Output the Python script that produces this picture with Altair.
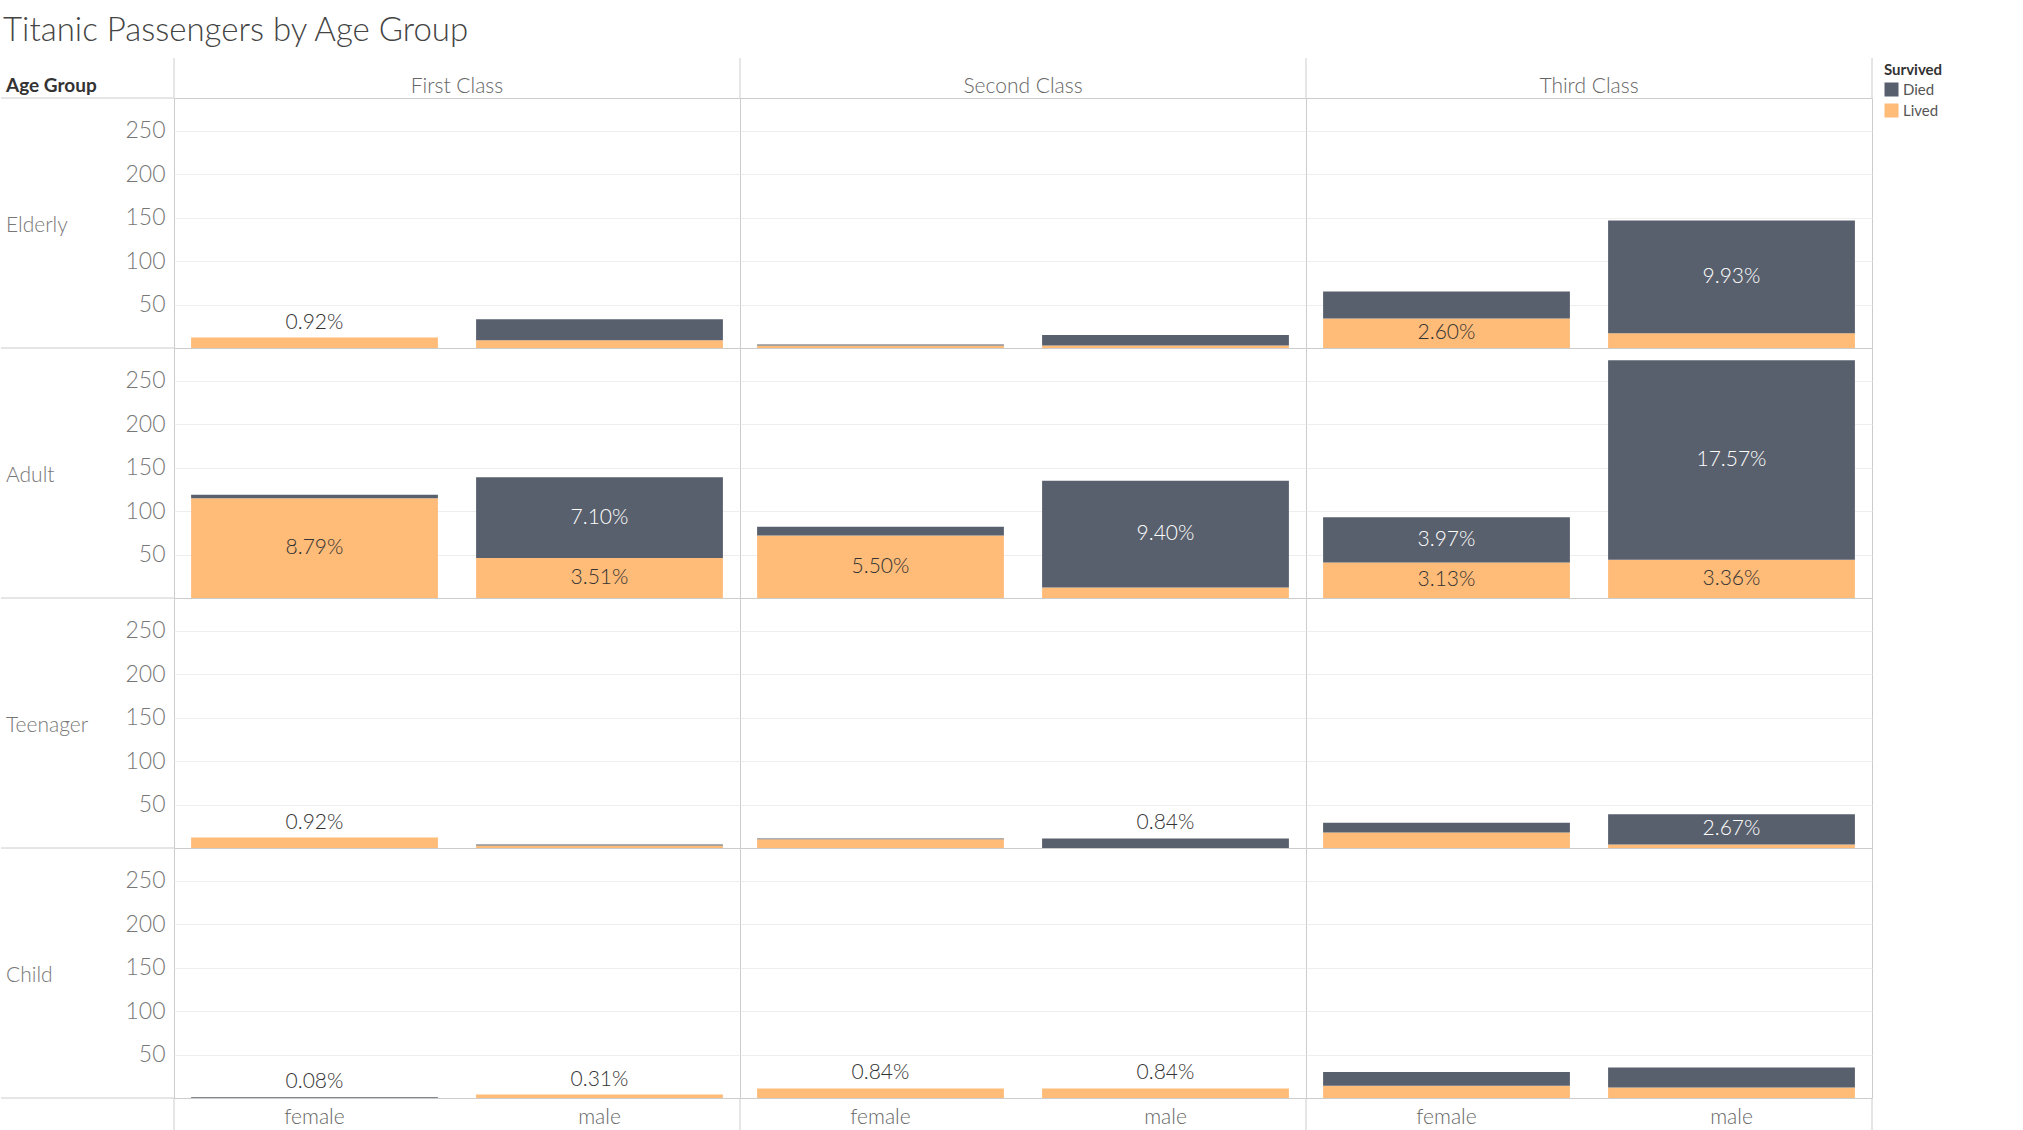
import altair as alt
import pandas as pd

TITLE = "Titanic Passengers by Age Group"
ROW_TITLE = "Age Group"
LEGEND_TITLE = "Survived"
AGE_GROUPS = ["Elderly", "Adult", "Teenager", "Child"]
CLASSES = ["First Class", "Second Class", "Third Class"]
SEXES = ["female", "male"]
SURVIVED = ["Died", "Lived"]
TOTAL_PASSENGERS = 1309
Y_TICKS = [50, 100, 150, 200, 250]

# passenger counts, ordered: First female, First male, Second female, Second male, Third female, Third male
LIVED_ELDERLY = [12, 9, 3, 3, 34, 17]
DIED_ELDERLY = [0, 24, 1, 12, 31, 130]
LIVED_ADULT = [115, 46, 72, 12, 41, 44]
DIED_ADULT = [4, 93, 10, 123, 52, 230]
LIVED_TEEN = [12, 3, 10, 0, 18, 4]
DIED_TEEN = [0, 1, 1, 11, 11, 35]
LIVED_CHILD = [0, 4, 11, 11, 14, 12]
DIED_CHILD = [1, 0, 0, 0, 16, 23]

# which segments carry a percent label ("in" = inside segment, "above" = above the bar)
LABEL_LIVED_ELDERLY = ["above", "", "", "", "in", ""]
LABEL_DIED_ELDERLY = ["", "", "", "", "", "in"]
LABEL_LIVED_ADULT = ["in", "in", "in", "", "in", "in"]
LABEL_DIED_ADULT = ["", "in", "", "in", "in", "in"]
LABEL_LIVED_TEEN = ["above", "", "", "", "", ""]
LABEL_DIED_TEEN = ["", "", "", "above", "", "in"]
LABEL_LIVED_CHILD = ["", "above", "above", "above", "", ""]
LABEL_DIED_CHILD = ["above", "", "", "", "", ""]

LIVED = [LIVED_ELDERLY, LIVED_ADULT, LIVED_TEEN, LIVED_CHILD]
DIED = [DIED_ELDERLY, DIED_ADULT, DIED_TEEN, DIED_CHILD]
LAB_L = [LABEL_LIVED_ELDERLY, LABEL_LIVED_ADULT, LABEL_LIVED_TEEN, LABEL_LIVED_CHILD]
LAB_D = [LABEL_DIED_ELDERLY, LABEL_DIED_ADULT, LABEL_DIED_TEEN, LABEL_DIED_CHILD]

rows = []
for age, lv, dv, ll, ld in zip(AGE_GROUPS, LIVED, DIED, LAB_L, LAB_D):
    i = 0
    for cls in CLASSES:
        for sex in SEXES:
            l, d = lv[i], dv[i]
            rows.append(dict(age=age, cls=cls, sex=sex, survived="Lived", count=l, order=0,
                             pct=l / TOTAL_PASSENGERS, label=ll[i],
                             label_y=(l / 2 if ll[i] == "in" else l + d)))
            rows.append(dict(age=age, cls=cls, sex=sex, survived="Died", count=d, order=1,
                             pct=d / TOTAL_PASSENGERS, label=ld[i],
                             label_y=(l + d / 2 if ld[i] == "in" else l + d)))
            i += 1
df = pd.DataFrame(rows)

FONT = "Lato"
W, H = 566, 250
LINE = "#cccccc"
y_scale = alt.Scale(domain=[0, 288], nice=False, zero=True)
y_axis = alt.Axis(values=Y_TICKS, title=None, ticks=False, domain=False,
                  labelFontSize=23, labelColor="#777777", labelFont=FONT, labelFontWeight=300,
                  labelPadding=9, gridColor="#eeeeee")

x_enc = alt.X("sex:N", sort=SEXES, title=None,
              scale=alt.Scale(paddingInner=0.134, paddingOuter=0.06),
              axis=alt.Axis(labelAngle=0, ticks=False, domain=False, labelFontSize=21,
                            labelColor="#666666", labelFont=FONT, labelFontWeight=300,
                            labelPadding=8))

bars = alt.Chart().mark_bar().encode(
    x=x_enc,
    y=alt.Y("count:Q", stack="zero", scale=y_scale, axis=y_axis),
    color=alt.Color("survived:N", scale=alt.Scale(domain=SURVIVED, range=["#59606d", "#ffbb78"]),
                    legend=alt.Legend(title=LEGEND_TITLE, orient="none", legendX=1710, legendY=-35)),
    order=alt.Order("order:Q"),
)

inside = alt.Chart().transform_filter(alt.datum.label == "in").mark_text(
    baseline="middle", fontSize=21, font=FONT, fontWeight=300).encode(
    x=x_enc,
    y=alt.Y("label_y:Q", scale=y_scale, axis=y_axis),
    text=alt.Text("pct:Q", format=".2%"),
    color=alt.condition(alt.datum.survived == "Died", alt.value("#ffffff"), alt.value("#333333")),
)

above = alt.Chart().transform_filter(alt.datum.label == "above").mark_text(
    baseline="alphabetic", dy=-9, fontSize=21, font=FONT, fontWeight=300, color="#333333").encode(
    x=x_enc,
    y=alt.Y("label_y:Q", scale=y_scale, axis=y_axis),
    text=alt.Text("pct:Q", format=".2%"),
)

one_per_cell = (alt.datum.sex == SEXES[0]) & (alt.datum.survived == "Lived")
first_col = one_per_cell & (alt.datum.cls == CLASSES[0])

row_lines = alt.Chart().transform_filter(first_col).mark_rule(color=LINE).encode(
    x=alt.value(-173), x2=alt.value(0), y=alt.value(H))
top_line = alt.Chart().transform_filter(first_col & (alt.datum.age == AGE_GROUPS[0])).mark_rule(color=LINE).encode(
    x=alt.value(-173), x2=alt.value(0), y=alt.value(0))
v_top = alt.Chart().transform_filter(one_per_cell & (alt.datum.age == AGE_GROUPS[0])).mark_rule(color=LINE).encode(
    x=alt.value(0), y=alt.value(-40), y2=alt.value(0))
v_top_r = alt.Chart().transform_filter(one_per_cell & (alt.datum.age == AGE_GROUPS[0]) & (alt.datum.cls == CLASSES[-1])).mark_rule(color=LINE).encode(
    x=alt.value(W), y=alt.value(-40), y2=alt.value(0))
v_bot = alt.Chart().transform_filter(one_per_cell & (alt.datum.age == AGE_GROUPS[-1])).mark_rule(color=LINE).encode(
    x=alt.value(0), y=alt.value(H), y2=alt.value(H + 33))
v_bot_r = alt.Chart().transform_filter(one_per_cell & (alt.datum.age == AGE_GROUPS[-1]) & (alt.datum.cls == CLASSES[-1])).mark_rule(color=LINE).encode(
    x=alt.value(W), y=alt.value(H), y2=alt.value(H + 33))

row_labels = alt.Chart().transform_filter(first_col).mark_text(
    align="left", baseline="middle", fontSize=21, font=FONT, fontWeight=300, color="#777777").encode(
    x=alt.value(-168), y=alt.value(H / 2 + 3), text="age:N")
age_title = alt.Chart().transform_filter(first_col & (alt.datum.age == AGE_GROUPS[0])).mark_text(
    align="left", baseline="middle", fontSize=19, font=FONT, fontWeight="bold", color="#333333",
    text=ROW_TITLE).encode(x=alt.value(-168), y=alt.value(-12))

layered = alt.layer(bars, inside, above, row_lines, top_line, v_top, v_top_r, v_bot, v_bot_r,
                    row_labels, age_title, data=df).properties(width=W, height=H)

chart = layered.facet(
    row=alt.Row("age:N", sort=AGE_GROUPS, header=alt.Header(labels=False, title=None)),
    column=alt.Column("cls:N", sort=CLASSES,
                      header=alt.Header(title=None, labelFontSize=21, labelColor="#666666",
                                        labelFont=FONT, labelFontWeight=300, labelPadding=1)),
    spacing=0,
    bounds="flush",
).properties(
    title=alt.TitleParams(TITLE, anchor="start", fontSize=33, font=FONT, fontWeight=300,
                          color="#444444", offset=9, dx=3, frame="bounds"),
    padding={"left": 0, "top": 15, "right": 5, "bottom": 0},
).configure_view(stroke=LINE, strokeWidth=1).configure_legend(
    titleFontSize=15, titleFont=FONT, titleFontWeight="bold", titleColor="#333333",
    labelFontSize=15, labelFont=FONT, labelColor="#555555", symbolType="square",
    symbolSize=196, symbolStrokeWidth=0, rowPadding=5, titlePadding=4,
)

chart.save("out.html", embed_options={"renderer": "svg", "actions": False})
